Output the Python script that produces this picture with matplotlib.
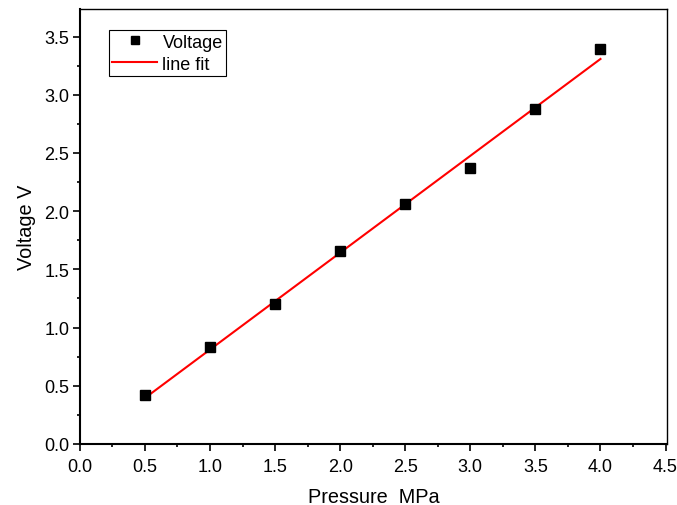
import numpy as np
import matplotlib
matplotlib.use("Agg")
import matplotlib.pyplot as plt
from matplotlib.ticker import MultipleLocator

plt.rcParams["font.family"] = ["Liberation Sans", "DejaVu Sans"]

# Data
pressure = [0.5, 1.0, 1.5, 2.0, 2.5, 3.0, 3.5, 4.0]
voltage = [0.42, 0.83, 1.20, 1.66, 2.06, 2.37, 2.88, 3.39]

# Linear fit of the measured points
slope, intercept = np.polyfit(pressure, voltage, 1)
fit_x = np.array([pressure[0], pressure[-1]])
fit_y = slope * fit_x + intercept

fig = plt.figure(figsize=(6.77, 5.06), dpi=100)
ax = fig.add_axes([0.118, 0.1206, 0.867, 0.8604])

ax.plot(pressure, voltage, "s", color="black", markersize=7, label="Voltage", zorder=3)
ax.plot(fit_x, fit_y, "-", color="red", linewidth=1.5, label="line fit", zorder=2)

ax.set_xlim(0, 4.51)
ax.set_ylim(0, 3.74)
ax.xaxis.set_major_locator(MultipleLocator(0.5))
ax.xaxis.set_minor_locator(MultipleLocator(0.25))
ax.yaxis.set_major_locator(MultipleLocator(0.5))
ax.yaxis.set_minor_locator(MultipleLocator(0.25))
ax.xaxis.set_major_formatter(plt.FormatStrFormatter("%.1f"))
ax.yaxis.set_major_formatter(plt.FormatStrFormatter("%.1f"))

ax.tick_params(axis="both", which="major", direction="out", length=5, width=1.2,
               labelsize=13, top=False, right=False)
ax.tick_params(axis="y", which="major", pad=2.5)
ax.tick_params(axis="x", which="major", pad=5)
ax.tick_params(axis="both", which="minor", direction="out", length=2.5, width=1.2,
               top=False, right=False)
for side in ["left", "bottom"]:
    ax.spines[side].set_linewidth(1.5)
for side in ["top", "right"]:
    ax.spines[side].set_linewidth(1.0)

ax.set_xlabel("Pressure  MPa", fontsize=14.3, labelpad=9)
ax.set_ylabel("Voltage V", fontsize=14.3, labelpad=6)

leg = ax.legend(loc="upper left", bbox_to_anchor=(0.049, 0.951), borderaxespad=0,
                fontsize=13, fancybox=False, framealpha=1, edgecolor="black",
                handlelength=2.5, handletextpad=0.28, borderpad=0.2,
                labelspacing=0.28, markerscale=0.8)
leg.get_frame().set_linewidth(0.8)

fig.savefig("out.png", dpi=100)
